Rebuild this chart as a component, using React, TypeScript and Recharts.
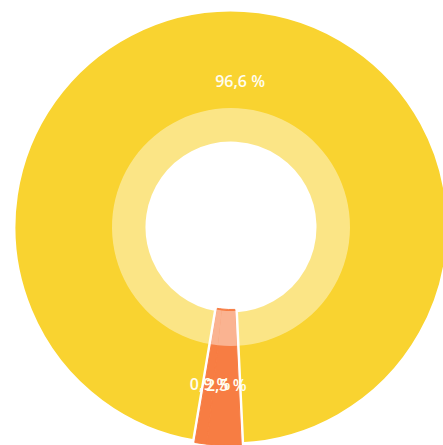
import React from 'react';
import { PieChart, Pie, Cell } from 'recharts';

const categories = ['A', 'B', 'C'];
const values = [96.6, 0.9, 2.5];
const labels = ['96,6 %', '0,9 %', '2,5 %'];
const sliceColors = ['#F9D330', '#F77D43', '#F77D43'];
const edgeColors = ['#FFFFFF', '#F77D43', '#F77D43'];
const edgeWidths = [6, 1, 1];

const data = categories.map((c, i) => ({ name: c, value: values[i], label: labels[i] }));

const RAD = Math.PI / 180;

const renderLabel = (props: any) => {
  const { cx, cy, midAngle, index } = props;
  const r = 152;
  const x = cx + r * Math.cos(-midAngle * RAD);
  const y = cy + r * Math.sin(-midAngle * RAD) + 6;
  return (
    <text
      x={x}
      y={y}
      fill="#FFFDF0"
      textAnchor="middle"
      dominantBaseline="central"
      fontFamily="'Open Sans', sans-serif"
      fontWeight={600}
      fontSize={16}
    >
      {labels[index]}
    </text>
  );
};

export default function App() {
  return (
    <div style={{ position: 'absolute', left: 0, top: 0, width: 443, height: 445, background: '#fff' }}>
      <PieChart width={443} height={445} margin={{ top: 0, right: 0, bottom: 0, left: 0 }}>
        <Pie
          data={data}
          dataKey="value"
          cx={231}
          cy={227}
          innerRadius={82.5}
          outerRadius={218.5}
          startAngle={-87.3}
          endAngle={272.7}
          isAnimationActive={false}
          label={false}
          labelLine={false}
        >
          {data.map((d, i) => (
            <Cell key={`out-${i}`} fill={sliceColors[i]} stroke={edgeColors[i]} strokeWidth={edgeWidths[i]} />
          ))}
        </Pie>
        <Pie
          data={data}
          dataKey="value"
          cx={231}
          cy={227}
          innerRadius={84}
          outerRadius={119}
          startAngle={-87.3}
          endAngle={272.7}
          fill="#FFFFFF"
          fillOpacity={0.42}
          stroke="none"
          isAnimationActive={false}
          label={false}
          labelLine={false}
        />
        <Pie
          data={data}
          dataKey="value"
          cx={231}
          cy={227}
          innerRadius={119}
          outerRadius={217}
          startAngle={-87.3}
          endAngle={272.7}
          fill="none"
          stroke="none"
          isAnimationActive={false}
          label={renderLabel}
          labelLine={false}
        />
      </PieChart>
    </div>
  );
}
